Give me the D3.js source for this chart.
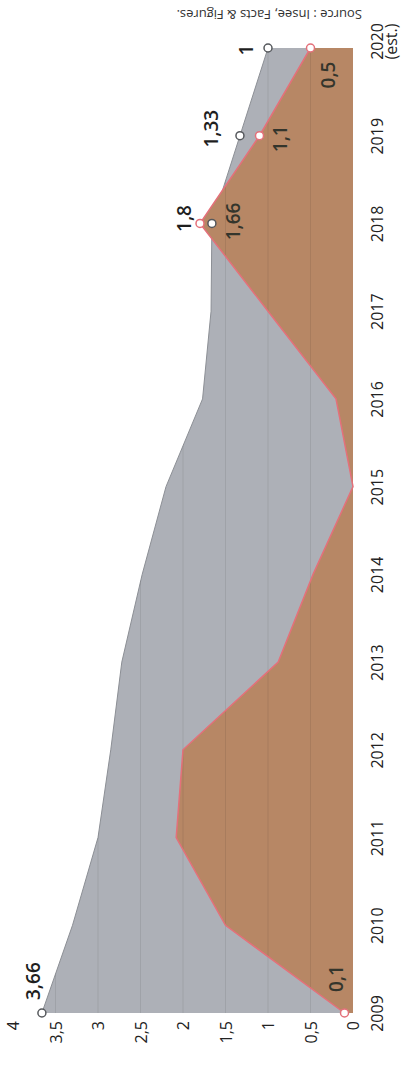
<!DOCTYPE html>
<html>
<head>
<meta charset="utf-8">
<script src="https://cdn.jsdelivr.net/npm/d3@7"></script>
<style>
  html, body { margin: 0; padding: 0; background: #fff; }
  svg { display: block; font-family: 'Open Sans', sans-serif; }
</style>
</head>
<body>
<svg id="chart" width="401" height="1065"></svg>
<script>
const years = [2009, 2010, 2011, 2012, 2013, 2014, 2015, 2016, 2017, 2018, 2019, 2020];
const yearLabels = [['2009'], ['2010'], ['2011'], ['2012'], ['2013'], ['2014'], ['2015'], ['2016'], ['2017'], ['2018'], ['2019'], ['2020', '(est.)']];
const greyValues = [3.66, 3.3, 3.0, 2.85, 2.72, 2.48, 2.2, 1.77, 1.67, 1.66, 1.33, 1];
const redValues = [0.1, 1.5, 2.08, 2.0, 0.88, 0.47, 0, 0.2, 1.0, 1.8, 1.1, 0.5];
const valueTicks = [0, 0.5, 1, 1.5, 2, 2.5, 3, 3.5, 4];
const greyLabels = [[0, '3,66'], [9, '1,66'], [10, '1,33'], [11, '1']];
const redLabels = [[0, '0,1'], [9, '1,8'], [10, '1,1'], [11, '0,5']];
const sourceText = 'Source : Insee, Facts & Figures.';

// label placement relative to its point (image coords, text runs upward)
const greyLabelPos = {
    0: { bx: -2, ay: -13, anchor: 'start', fill: '#1e1e1e' },
    9: { bx: 28, ay: -2, anchor: 'middle', fill: '#34352c' },
    10: { bx: -22, ay: -7, anchor: 'middle', fill: '#1e1e1e' },
    11: { bx: -15, ay: 2, anchor: 'middle', fill: '#1e1e1e' }
};
const redLabelPos = {
    0: { bx: -2, ay: -21, anchor: 'start', fill: '#34352c' },
    9: { bx: -9, ay: -5, anchor: 'middle', fill: '#1e1e1e' },
    10: { bx: 27, ay: 3, anchor: 'middle', fill: '#34352c' },
    11: { bx: 24, ay: 27, anchor: 'middle', fill: '#34352c' }
};

const svg = d3.select('#chart');

// chart is printed turned a quarter: years go up the page, values grow to the left
const y = d3.scaleLinear().domain([2009, 2020]).range([1013, 48]);
const x = d3.scaleLinear().domain([0, 4]).range([353, 13]);

const greyData = years.map((yr, i) => ({ year: yr, v: greyValues[i] }));
const redData = years.map((yr, i) => ({ year: yr, v: redValues[i] }));

const area = d3.area()
    .y(d => y(d.year))
    .x0(x(0))
    .x1(d => x(d.v));
const line = d3.line()
    .y(d => y(d.year))
    .x(d => x(d.v));

// gridlines only show where there is ink
const clip = svg.append('defs').append('clipPath').attr('id', 'fillClip');
clip.append('path').datum(greyData).attr('d', area);
clip.append('path').datum(redData).attr('d', area);

svg.append('path')
    .datum(greyData)
    .attr('d', area)
    .attr('fill', '#adb0b7');
svg.append('path')
    .datum(greyData)
    .attr('d', line)
    .attr('fill', 'none')
    .attr('stroke', '#8c8f95')
    .attr('stroke-width', 1);

svg.append('path')
    .datum(redData)
    .attr('d', area)
    .attr('fill', '#b78765');

svg.append('g')
    .attr('clip-path', 'url(#fillClip)')
    .selectAll('line')
    .data(valueTicks.slice(1))
    .enter()
    .append('line')
    .attr('x1', d => x(d))
    .attr('x2', d => x(d))
    .attr('y1', y(2020))
    .attr('y2', y(2009))
    .attr('stroke', 'rgba(0,0,0,0.08)')
    .attr('stroke-width', 1);

svg.append('path')
    .datum(redData)
    .attr('d', line)
    .attr('fill', 'none')
    .attr('stroke', '#e4707a')
    .attr('stroke-width', 1.5);

svg.append('g')
    .selectAll('circle')
    .data(greyLabels)
    .enter()
    .append('circle')
    .attr('cx', d => x(greyValues[d[0]]))
    .attr('cy', d => y(years[d[0]]))
    .attr('r', 4)
    .attr('fill', '#fff')
    .attr('stroke', '#55585c')
    .attr('stroke-width', 1.5);

svg.append('g')
    .selectAll('circle')
    .data(redLabels)
    .enter()
    .append('circle')
    .attr('cx', d => x(redValues[d[0]]))
    .attr('cy', d => y(years[d[0]]))
    .attr('r', 4)
    .attr('fill', '#fff')
    .attr('stroke', '#e4707a')
    .attr('stroke-width', 1.5);

function drawLabels(list, values, pos) {
    svg.append('g')
        .selectAll('text')
        .data(list)
        .enter()
        .append('text')
        .attr('transform', function (d) {
            let p = pos[d[0]];
            let px = x(values[d[0]]) + p.bx;
            let py = y(years[d[0]]) + p.ay;
            return 'translate(' + px + ',' + py + ') rotate(-90)';
        })
        .attr('text-anchor', d => pos[d[0]].anchor)
        .attr('fill', d => pos[d[0]].fill)
        .style('font-size', '19px')
        .style('font-weight', 600)
        .text(d => d[1]);
}
drawLabels(greyLabels, greyValues, greyLabelPos);
drawLabels(redLabels, redValues, redLabelPos);

// value axis along the bottom
const xAxis = svg.append('g')
    .attr('transform', 'translate(0,1021)')
    .call(d3.axisBottom(x).tickValues(valueTicks).tickSize(0).tickFormat(d => String(d).replace('.', ',')));
xAxis.select('.domain').remove();
xAxis.selectAll('text')
    .attr('x', 0)
    .attr('y', 0)
    .attr('dy', '0.35em')
    .attr('transform', 'rotate(-90)')
    .attr('text-anchor', 'end')
    .attr('fill', '#222')
    .style('font-size', '16px')
    .style('font-family', "'Open Sans', sans-serif");

// year axis down the right side
const yAxis = svg.append('g')
    .attr('transform', 'translate(383,0)')
    .call(d3.axisRight(y).tickValues(years).tickSize(0).tickFormat(''));
yAxis.select('.domain').remove();
yAxis.selectAll('.tick text').remove();
yAxis.selectAll('.tick')
    .append('text')
    .attr('transform', 'rotate(-90)')
    .attr('text-anchor', 'middle')
    .attr('fill', '#222')
    .style('font-size', '16px')
    .style('font-family', "'Open Sans', sans-serif")
    .each(function (d, i) {
        let lbl = yearLabels[i];
        let t = d3.select(this);
        lbl.forEach(function (s, j) {
            t.append('tspan')
                .attr('x', lbl.length > 1 ? 7 : 0)
                .attr('dy', j === 0 ? 0 : '0.85em')
                .text(s);
        });
    });

// source note is printed upside down at the top
svg.append('text')
    .attr('transform', 'translate(362,10) rotate(180)')
    .attr('text-anchor', 'start')
    .attr('fill', '#333')
    .style('font-size', '13px')
    .text(sourceText);
</script>
</body>
</html>
